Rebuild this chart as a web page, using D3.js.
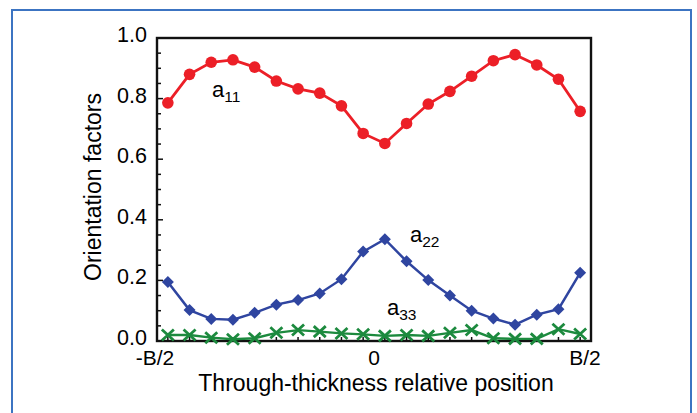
<!DOCTYPE html>
<html>
<head>
<meta charset="utf-8">
<script src="https://cdn.jsdelivr.net/npm/d3@7"></script>
<style>
  body { margin: 0; background: #fff; }
  svg text { font-family: "Liberation Sans", Arial, sans-serif; fill: #000; }
</style>
</head>
<body>
<svg id="chart" width="697" height="413"></svg>
<script>
// through-thickness stations (20 layers across the plate)
const stations = d3.range(1, 21);
const xTickLabels = ["-B/2", "0", "B/2"];
const xTickPos = [-0.5, 0, 0.5];

const a11 = [0.786, 0.880, 0.920, 0.928, 0.904, 0.858, 0.832, 0.818, 0.776, 0.685,
             0.652, 0.718, 0.782, 0.824, 0.874, 0.925, 0.945, 0.911, 0.864, 0.758];
const a22 = [0.195, 0.102, 0.073, 0.070, 0.093, 0.120, 0.135, 0.157, 0.204, 0.295,
             0.336, 0.263, 0.201, 0.150, 0.100, 0.074, 0.054, 0.087, 0.105, 0.225];
const a33 = [0.020, 0.020, 0.011, 0.006, 0.009, 0.027, 0.036, 0.031, 0.025, 0.022,
             0.017, 0.020, 0.017, 0.027, 0.036, 0.009, 0.007, 0.007, 0.039, 0.023];

const svg = d3.select("#chart");

// outer blue frame
svg.append("rect")
  .attr("x", 12).attr("y", 10)
  .attr("width", 679).attr("height", 430)
  .attr("fill", "none")
  .attr("stroke", "#3c74c2")
  .attr("stroke-width", 2);

const plot = { left: 157, right: 591, top: 38, bottom: 341 };

const xBand = d3.scaleBand().domain(stations).range([plot.left, plot.right]).padding(0);
const xPos = (d) => xBand(d) + xBand.bandwidth() / 2;
const xLab = d3.scaleLinear().domain([-0.5, 0.5]).range([plot.left, plot.right]);
const y = d3.scaleLinear().domain([0, 1]).range([plot.bottom, plot.top]);

const g = svg.append("g");

// left axis ticks (inside)
g.selectAll(".ytick")
  .data(y.ticks(20))
  .enter()
  .append("line")
  .attr("x1", plot.left)
  .attr("x2", (d) => plot.left + (Math.round(d * 100) % 20 === 0 ? 6 : 4))
  .attr("y1", (d) => y(d))
  .attr("y2", (d) => y(d))
  .attr("stroke", "#111")
  .attr("stroke-width", 1.5);

// bottom axis ticks at each station
g.selectAll(".xtick")
  .data(stations)
  .enter()
  .append("line")
  .attr("x1", (d) => xPos(d))
  .attr("x2", (d) => xPos(d))
  .attr("y1", plot.bottom)
  .attr("y2", plot.bottom - 4)
  .attr("stroke", "#111")
  .attr("stroke-width", 1.5);

// frame
g.append("rect")
  .attr("x", plot.left).attr("y", plot.top)
  .attr("width", plot.right - plot.left)
  .attr("height", plot.bottom - plot.top)
  .attr("fill", "none")
  .attr("stroke", "#111")
  .attr("stroke-width", 2.4);

// y tick labels
g.selectAll(".ylab")
  .data(y.ticks(5))
  .enter()
  .append("text")
  .attr("x", 147)
  .attr("y", (d) => y(d) + 4)
  .attr("text-anchor", "end")
  .attr("font-size", "21.5px")
  .text(d3.format(".1f"));

// x tick labels
g.selectAll(".xlab")
  .data(xTickPos)
  .enter()
  .append("text")
  .attr("x", (d) => xLab(d) + (d < 0 ? -2 : d > 0 ? -6 : 0))
  .attr("y", 365)
  .attr("text-anchor", "middle")
  .attr("font-size", "21px")
  .text((d, i) => xTickLabels[i]);

// axis titles
svg.append("text")
  .attr("x", 376)
  .attr("y", 391)
  .attr("text-anchor", "middle")
  .attr("font-size", "23px")
  .text("Through-thickness relative position");

svg.append("text")
  .attr("transform", "translate(101,187) rotate(-90)")
  .attr("text-anchor", "middle")
  .attr("font-size", "23px")
  .text("Orientation factors");

const line = (vals) =>
  d3.line().x((d, i) => xPos(stations[i])).y((d) => y(d))(vals);

// a11 red circles
g.append("path").attr("d", line(a11))
  .attr("fill", "none").attr("stroke", "#ec1f27").attr("stroke-width", 2.8);
g.selectAll(".c11").data(a11).enter().append("circle")
  .attr("cx", (d, i) => xPos(stations[i]))
  .attr("cy", (d) => y(d))
  .attr("r", 5.8)
  .attr("fill", "#ec1f27");

// a22 blue diamonds
g.append("path").attr("d", line(a22))
  .attr("fill", "none").attr("stroke", "#2f45a0").attr("stroke-width", 2.5);
g.selectAll(".c22").data(a22).enter().append("path")
  .attr("transform", (d, i) => `translate(${xPos(stations[i])},${y(d)}) rotate(45)`)
  .attr("d", d3.symbol(d3.symbolSquare, 72)())
  .attr("fill", "#2f45a0");

// a33 green crosses
g.append("path").attr("d", line(a33))
  .attr("fill", "none").attr("stroke", "#1c8a3e").attr("stroke-width", 2.4);
g.selectAll(".c33").data(a33).enter().append("path")
  .attr("transform", (d, i) => `translate(${xPos(stations[i])},${y(d)})`)
  .attr("d", "M-6,-5.5L6,5.5M-6,5.5L6,-5.5")
  .attr("stroke", "#1c8a3e")
  .attr("stroke-width", 2.8)
  .attr("fill", "none");

// series labels
const labels = [
  { main: "a", sub: "11", x: 212, y: 97 },
  { main: "a", sub: "22", x: 410, y: 242 },
  { main: "a", sub: "33", x: 387, y: 315 },
];
labels.forEach((l) => {
  const t = svg.append("text").attr("x", l.x).attr("y", l.y).attr("font-size", "22px");
  t.append("tspan").text(l.main);
  t.append("tspan").attr("dy", 5).attr("font-size", "15.5px").text(l.sub);
});
</script>
</body>
</html>
